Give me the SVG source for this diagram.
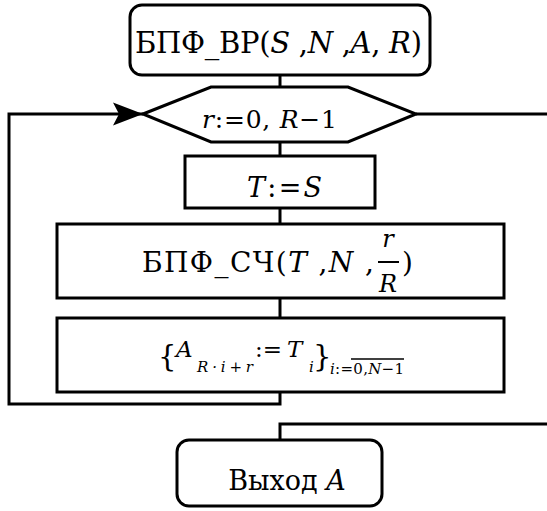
<svg xmlns="http://www.w3.org/2000/svg" width="547" height="511" viewBox="0 0 547 511">
<style>
.s{fill:#fff;stroke:#000;stroke-width:3}
.c{fill:none;stroke:#000;stroke-width:3}
.i{font-style:italic}
.f{font-family:"DejaVu Serif","Liberation Serif",serif;fill:#000}
</style>
<defs>
<marker id="ah" markerUnits="userSpaceOnUse" markerWidth="32" markerHeight="26" viewBox="-31 -13 32 26" refX="0" refY="0" orient="auto">
<path d="M0,0 L-30,-11.5 L-24,0 L-30,11.5 Z" fill="#000"/>
</marker>
</defs>
<rect width="547" height="511" fill="#fff"/>
<g id="connectors">
<path class="c" d="M280,75 V87"/>
<path class="c" d="M280,142 V156"/>
<path class="c" d="M280,208 V224"/>
<path class="c" d="M280,298 V318"/>
<path class="c" d="M280,392 V404 H9 V114 H143" marker-end="url(#ah)"/>
<path class="c" d="M416,114 H550"/>
<path class="c" d="M550,424 H280 V440"/>
</g>
<g class="f">
<g id="start">
<rect class="s" x="130" y="5" width="300" height="70" rx="12"/>
<text x="135" y="53" font-size="29" textLength="287" lengthAdjust="spacing">БПФ_ВР(<tspan class="i">S</tspan> ,<tspan class="i">N</tspan> ,<tspan class="i">A</tspan>, <tspan class="i">R</tspan>)</text>
</g>
<g id="loop">
<polygon class="s" points="143,114 211,87 348,87 416,114 348,142 211,142"/>
<text x="202" y="128" font-size="25" textLength="135" lengthAdjust="spacing"><tspan class="i">r</tspan>:=0, <tspan class="i">R</tspan>−1</text>
</g>
<g id="assign">
<rect class="s" x="185" y="156" width="190" height="52"/>
<text x="247" y="197" font-size="27" textLength="75" lengthAdjust="spacing"><tspan class="i">T</tspan>:=<tspan class="i">S</tspan></text>
</g>
<g id="fft">
<rect class="s" x="57" y="224" width="447" height="74"/>
<text x="142" y="272" font-size="28" textLength="232" lengthAdjust="spacing">БПФ_СЧ(<tspan class="i">T</tspan> ,<tspan class="i">N</tspan> ,</text>
<text x="388" y="247" font-size="24" class="i" text-anchor="middle">r</text>
<line x1="378" y1="262" x2="399" y2="262" stroke="#000" stroke-width="2"/>
<text x="388" y="292" font-size="24" class="i" text-anchor="middle">R</text>
<text x="402" y="272" font-size="28">)</text>
</g>
<g id="store">
<rect class="s" x="57" y="318" width="447" height="74"/>
<text x="158" y="366" font-size="29">{</text>
<text x="176" y="357" font-size="23" class="i">A</text>
<text x="197" y="372" font-size="15" class="i" textLength="56" lengthAdjust="spacing">R·i+r</text>
<text x="255" y="357" font-size="23" textLength="27" lengthAdjust="spacing">:=</text>
<text x="287" y="357" font-size="23" class="i">T</text>
<text x="309" y="372" font-size="15" class="i">i</text>
<text x="313" y="366" font-size="29">}</text>
<text x="330" y="374" font-size="15" textLength="74" lengthAdjust="spacing"><tspan class="i">i</tspan>:=0,<tspan class="i">N</tspan>−1</text>
<line x1="351" y1="359" x2="404" y2="359" stroke="#000" stroke-width="1.5"/>
</g>
<g id="end">
<rect class="s" x="177" y="440" width="205" height="66" rx="12"/>
<text x="287" y="490" font-size="27" text-anchor="middle">Выход <tspan class="i">A</tspan></text>
</g>
</g>
</svg>
